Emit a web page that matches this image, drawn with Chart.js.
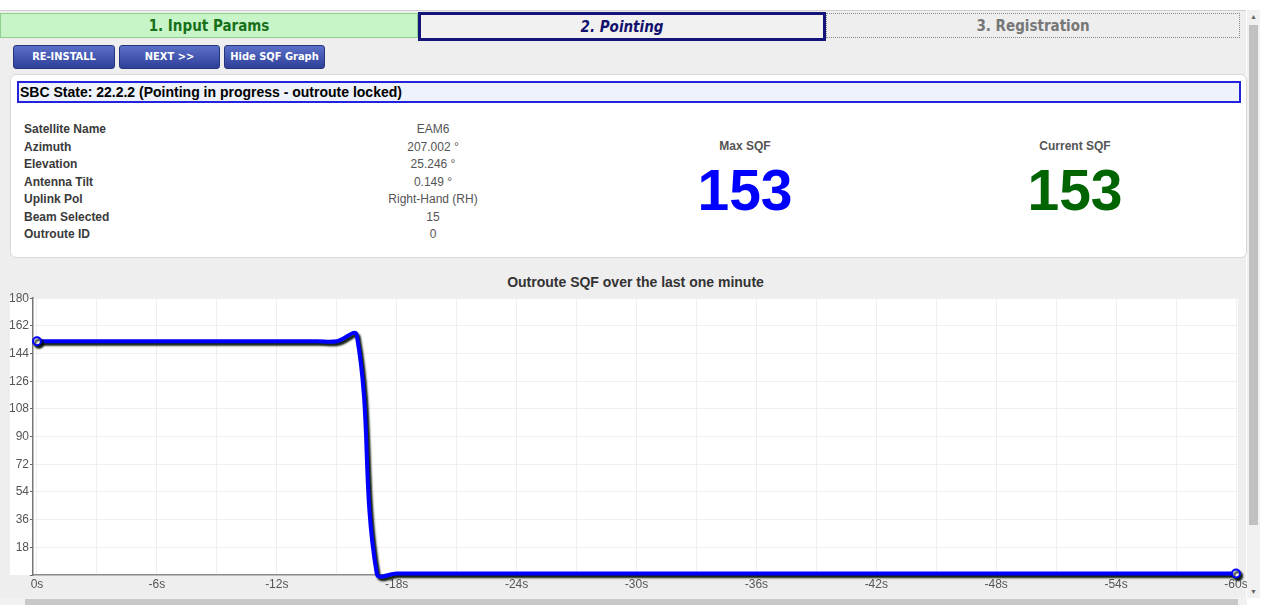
<!DOCTYPE html>
<html lang="en">
<head>
<meta charset="UTF-8">
<title>Pointing</title>
<script src="https://cdn.jsdelivr.net/npm/chart.js"></script>
<style>
  html, body { margin: 0; padding: 0; }
  body { width: 1266px; height: 605px; position: relative; overflow: hidden; background: #fff; font-family: "Liberation Sans", Arial, sans-serif; }
  .page { position: absolute; left: 0; top: 10px; width: 1246px; height: 595px; background: #eeeeee; border-top: 1px solid #cfcfcf; }
  .tab { position: absolute; box-sizing: border-box; text-align: center; font-family: "Liberation Sans Narrow", "DejaVu Sans Condensed", sans-serif; font-weight: bold; font-size: 15px; }
  .t1 { left: 0; top: 13px; width: 418px; height: 25px; line-height: 25px; background: #c8f5c8; border: 1px solid #8fce8f; color: #17701a; }
  .t2 { left: 418px; top: 12px; width: 408px; height: 29px; line-height: 25px; background: #f1f1f1; border: 3px solid #14147a; color: #12126e; font-style: italic; }
  .t3 { left: 826px; top: 13px; width: 414px; height: 25px; line-height: 24px; border: 1px dotted #8a8a8a; color: #777; }
  .btn { position: absolute; top: 45px; height: 24px; box-sizing: border-box; border: 1px solid #27367c; border-radius: 3px;
         background: linear-gradient(#5b70c9, #2e3f98); color: #fff; font-family: "Liberation Sans Narrow", "DejaVu Sans Condensed", sans-serif;
         font-weight: bold; font-size: 11px; line-height: 22px; text-align: center; }
  .panel { position: absolute; left: 10px; top: 74px; width: 1237px; height: 184px; box-sizing: border-box; background: #fff; border: 1px solid #d8d8d8; border-radius: 6px; }
  .state { position: absolute; left: 17px; top: 81px; width: 1224px; height: 22px; box-sizing: border-box; border: 2px solid #2323dd; background: #eef3fb;
           font-weight: bold; font-size: 14px; line-height: 18px; padding-left: 1px; color: #000; }
  .lbl { position: absolute; left: 24px; font-weight: bold; font-size: 12px; color: #3a3a3a; line-height: 14px; }
  .val { position: absolute; left: 333px; width: 200px; text-align: center; font-size: 12px; color: #555; line-height: 14px; }
  .big { position: absolute; width: 200px; text-align: center; font-weight: bold; }
  .cap { font-size: 12px; color: #555; top: 139px; line-height: 14px; }
  .num { font-size: 57px; top: 157px; line-height: 66px; }
  .ctitle { position: absolute; left: 33px; width: 1205px; top: 274px; text-align: center; font-weight: bold; font-size: 14px; color: #333; }
  #sqfChart { position: absolute; left: 0; top: 290px; }
  .vscroll { position: absolute; left: 1247px; top: 10px; width: 13px; height: 588px; background: #f1f1f1; }
  .vthumb { position: absolute; left: 1249px; top: 25px; width: 9px; height: 500px; background: #c1c1c1; }
  .hscroll { position: absolute; left: 0; top: 598px; width: 1247px; height: 7px; background: #f1f1f1; }
  .hthumb { position: absolute; left: 25px; top: 599px; width: 1213px; height: 6px; background: #c8c8c8; }
  .arr { position: absolute; font-size: 7px; color: #666; line-height: 7px; }
</style>
</head>
<body>
<div class="page"></div>
<div class="tab t1">1. Input Params</div>
<div class="tab t2">2. Pointing</div>
<div class="tab t3">3. Registration</div>

<div class="btn" style="left:13px;width:102px;">RE-INSTALL</div>
<div class="btn" style="left:119px;width:101px;">NEXT &gt;&gt;</div>
<div class="btn" style="left:224px;width:101px;">Hide SQF Graph</div>

<div class="panel"></div>
<div class="state">SBC State: 22.2.2 (Pointing in progress - outroute locked)</div>
<div id="info"></div>

<div class="big cap" style="left:645px;">Max SQF</div>
<div class="big num" style="left:645px;color:#0000ff;">153</div>
<div class="big cap" style="left:975px;">Current SQF</div>
<div class="big num" style="left:975px;color:#006400;">153</div>

<div class="ctitle">Outroute SQF over the last one minute</div>
<canvas id="sqfChart" width="1250" height="305"></canvas>

<div class="vscroll"></div>
<div class="vthumb"></div>
<div class="arr" style="left:1250px;top:13px;">&#9650;</div>
<div class="arr" style="left:1250px;top:588px;">&#9660;</div>
<div class="hscroll"></div>
<div class="hthumb"></div>

<script>
    var infoLabels = ['Satellite Name', 'Azimuth', 'Elevation', 'Antenna Tilt', 'Uplink Pol', 'Beam Selected', 'Outroute ID'];
    var infoValues = ['EAM6', '207.002 °', '25.246 °', '0.149 °', 'Right-Hand (RH)', '15', '0'];

    // seconds before now, one sample per second
    var secondsAgo = [0, 1, 2, 3, 4, 5, 6, 7, 8, 9, 10, 11, 12, 13, 14, 15, 16, 17, 18, 19, 20,
                      21, 22, 23, 24, 25, 26, 27, 28, 29, 30, 31, 32, 33, 34, 35, 36, 37, 38, 39, 40,
                      41, 42, 43, 44, 45, 46, 47, 48, 49, 50, 51, 52, 53, 54, 55, 56, 57, 58, 59, 60];
    var sqfValues = [152, 152, 152, 152, 152, 152, 152, 152, 152, 152, 152, 152, 152, 152, 152, 152, 156, 1, 1, 1, 1,
                     1, 1, 1, 1, 1, 1, 1, 1, 1, 1, 1, 1, 1, 1, 1, 1, 1, 1, 1, 1,
                     1, 1, 1, 1, 1, 1, 1, 1, 1, 1, 1, 1, 1, 1, 1, 1, 1, 1, 1, 1];
    var yTicks = [0, 18, 36, 54, 72, 90, 108, 126, 144, 162, 180];

    var info = document.getElementById('info');
    infoLabels.forEach(function(l, i) {
        var top = 122 + i * 17.5;
        info.innerHTML += '<div class="lbl" style="top:' + top + 'px">' + l + '</div>' +
                          '<div class="val" style="top:' + top + 'px">' + infoValues[i] + '</div>';
    });

    // white plot background like the old graph
    var plotBg = {
        id: 'plotBg',
        beforeDraw: function(chart) {
            var a = chart.chartArea, c = chart.ctx;
            c.save();
            c.fillStyle = '#fff';
            c.fillRect(10, a.top, a.right - 10, a.bottom - a.top);
            c.restore();
        }
    };
    var lineShadow = {
        id: 'lineShadow',
        beforeDatasetDraw: function(chart) {
            var c = chart.ctx;
            c.save();
            c.shadowColor = 'rgba(0, 15, 0, 0.95)';
            c.shadowBlur = 2;
            c.shadowOffsetX = 2;
            c.shadowOffsetY = 2.5;
        },
        afterDatasetDraw: function(chart) {
            chart.ctx.restore();
        }
    };

    var lastIdx = sqfValues.length - 1;
    var ctx = document.getElementById('sqfChart').getContext('2d');
    var sqfChart = new Chart(ctx, {
        type: 'line',
        data: {
            datasets: [{
                label: 'SQF',
                data: sqfValues.map(function(v, i) { return { x: secondsAgo[i], y: v }; }),
                borderColor: '#0000ff',
                borderWidth: 4,
                tension: 0.4,
                fill: false,
                clip: 12,
                pointRadius: function(c) { return (c.dataIndex === 0 || c.dataIndex === lastIdx) ? 4 : 0; },
                pointBackgroundColor: '#fff',
                pointBorderColor: '#0000ff',
                pointBorderWidth: 2
            }]
        },
        options: {
            responsive: false,
            animation: false,
            events: [],
            elements: { line: { capBezierPoints: false } },
            layout: { padding: { top: 8, right: 12, left: 0, bottom: 0 } },
            plugins: { legend: { display: false }, tooltip: { enabled: false } },
            scales: {
                x: {
                    type: 'linear',
                    min: -0.2,
                    max: 60.1,
                    afterFit: function(s) { s.height = 20; },
                    ticks: {
                        stepSize: 3,
                        includeBounds: false,
                        autoSkip: false,
                        maxRotation: 0,
                        padding: 2,
                        color: '#555',
                        font: { family: 'Liberation Sans', size: 12 },
                        callback: function(v) {
                            if (v % 6 !== 0) return '';
                            return v === 0 ? '0s' : '-' + v + 's';
                        }
                    },
                    grid: { color: '#efefef', drawTicks: false },
                    border: { color: '#8a8a8a', width: 1.5 }
                },
                y: {
                    min: 0,
                    max: 180,
                    afterFit: function(s) { s.width = 33; },
                    afterBuildTicks: function(s) { s.ticks = yTicks.map(function(v) { return { value: v }; }); },
                    ticks: {
                        padding: 1,
                        color: '#555',
                        font: { family: 'Liberation Sans', size: 12 },
                        callback: function(v) { return v === 0 ? '' : v; }
                    },
                    grid: { color: '#efefef', tickColor: '#666', tickLength: 3 },
                    border: { color: '#777', width: 1.5 }
                }
            }
        },
        plugins: [plotBg, lineShadow]
    });
</script>
</body>
</html>
